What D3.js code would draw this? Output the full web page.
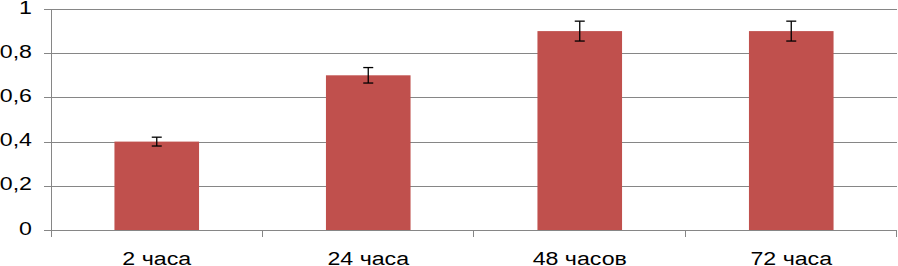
<html lang="ru">
<head>
<meta charset="utf-8">
<style>
	body { margin: 0; background: #fff; }
	text { font-family: "Liberation Sans", Arial, sans-serif; fill: #000; }
</style>
</head>
<body>
<svg width="898" height="266"></svg>
<script src="https://d3js.org/d3.v7.min.js"></script>
<script>
	var categories = ["2 часа", "24 часа", "48 часов", "72 часа"];
	var values = [0.4, 0.7, 0.9, 0.9];
	var errors = [0.02, 0.035, 0.045, 0.045];
	var yTicks = [0, 0.2, 0.4, 0.6, 0.8, 1];

	var svg = d3.select("svg");
	var plotLeft = 51, plotRight = 897, plotTop = 9, plotBottom = 230;
	var stretch = 1.22; // text in the picture is a bit wide

	var x = d3.scaleBand().domain(categories).range([plotLeft, plotRight]).paddingInner(0.6).paddingOuter(0.3);
	var band = d3.scaleBand().domain(categories).range([plotLeft, plotRight]);
	var y = d3.scaleLinear().domain([0, 1]).range([plotBottom, plotTop]);

	// gridlines
	svg.append("g").selectAll("line")
		.data(yTicks)
		.enter().append("line")
		.attr("x1", plotLeft - 7).attr("x2", plotRight)
		.attr("y1", function(d) { return Math.round(y(d)) + 0.5; })
		.attr("y2", function(d) { return Math.round(y(d)) + 0.5; })
		.attr("stroke", "#868686");

	// y axis line
	svg.append("line")
		.attr("x1", plotLeft + 0.5).attr("x2", plotLeft + 0.5)
		.attr("y1", plotTop).attr("y2", plotBottom + 7)
		.attr("stroke", "#868686");

	// category ticks
	svg.append("g").selectAll("line")
		.data(categories)
		.enter().append("line")
		.attr("x1", function(d) { return Math.round(band(d) + band.bandwidth()) - 0.5; })
		.attr("x2", function(d) { return Math.round(band(d) + band.bandwidth()) - 0.5; })
		.attr("y1", plotBottom).attr("y2", plotBottom + 7)
		.attr("stroke", "#868686");

	// y labels
	svg.append("g").selectAll("text")
		.data(yTicks)
		.enter().append("text")
		.attr("transform", function(d) { return "translate(32," + (y(d) + 4.5) + ") scale(" + stretch + ",1)"; })
		.attr("text-anchor", "end")
		.attr("font-size", "19px")
		.text(function(d) { return String(d).replace(".", ","); });

	// x labels
	svg.append("g").selectAll("text")
		.data(categories)
		.enter().append("text")
		.attr("transform", function(d) { return "translate(" + (band(d) + band.bandwidth() / 2) + ",265) scale(" + stretch + ",1)"; })
		.attr("text-anchor", "middle")
		.attr("font-size", "19px")
		.text(function(d) { return d; });

	// bars
	svg.append("g").selectAll("rect")
		.data(values)
		.enter().append("rect")
		.attr("x", function(d, i) { return x(categories[i]); })
		.attr("width", x.bandwidth())
		.attr("y", function(d) { return y(d); })
		.attr("height", function(d) { return y(0) - y(d); })
		.attr("fill", "#C0504D");

	// error bars
	var eb = svg.append("g").attr("stroke", "#000").attr("stroke-width", 1.3);
	values.forEach(function(v, i) {
		var cx = x(categories[i]) + x.bandwidth() / 2;
		var y1 = y(v + errors[i]), y2 = y(v - errors[i]);
		eb.append("line").attr("x1", cx).attr("x2", cx).attr("y1", y1).attr("y2", y2);
		eb.append("line").attr("x1", cx - 5).attr("x2", cx + 5).attr("y1", y1).attr("y2", y1);
		eb.append("line").attr("x1", cx - 5).attr("x2", cx + 5).attr("y1", y2).attr("y2", y2);
	});
</script>
</body>
</html>
